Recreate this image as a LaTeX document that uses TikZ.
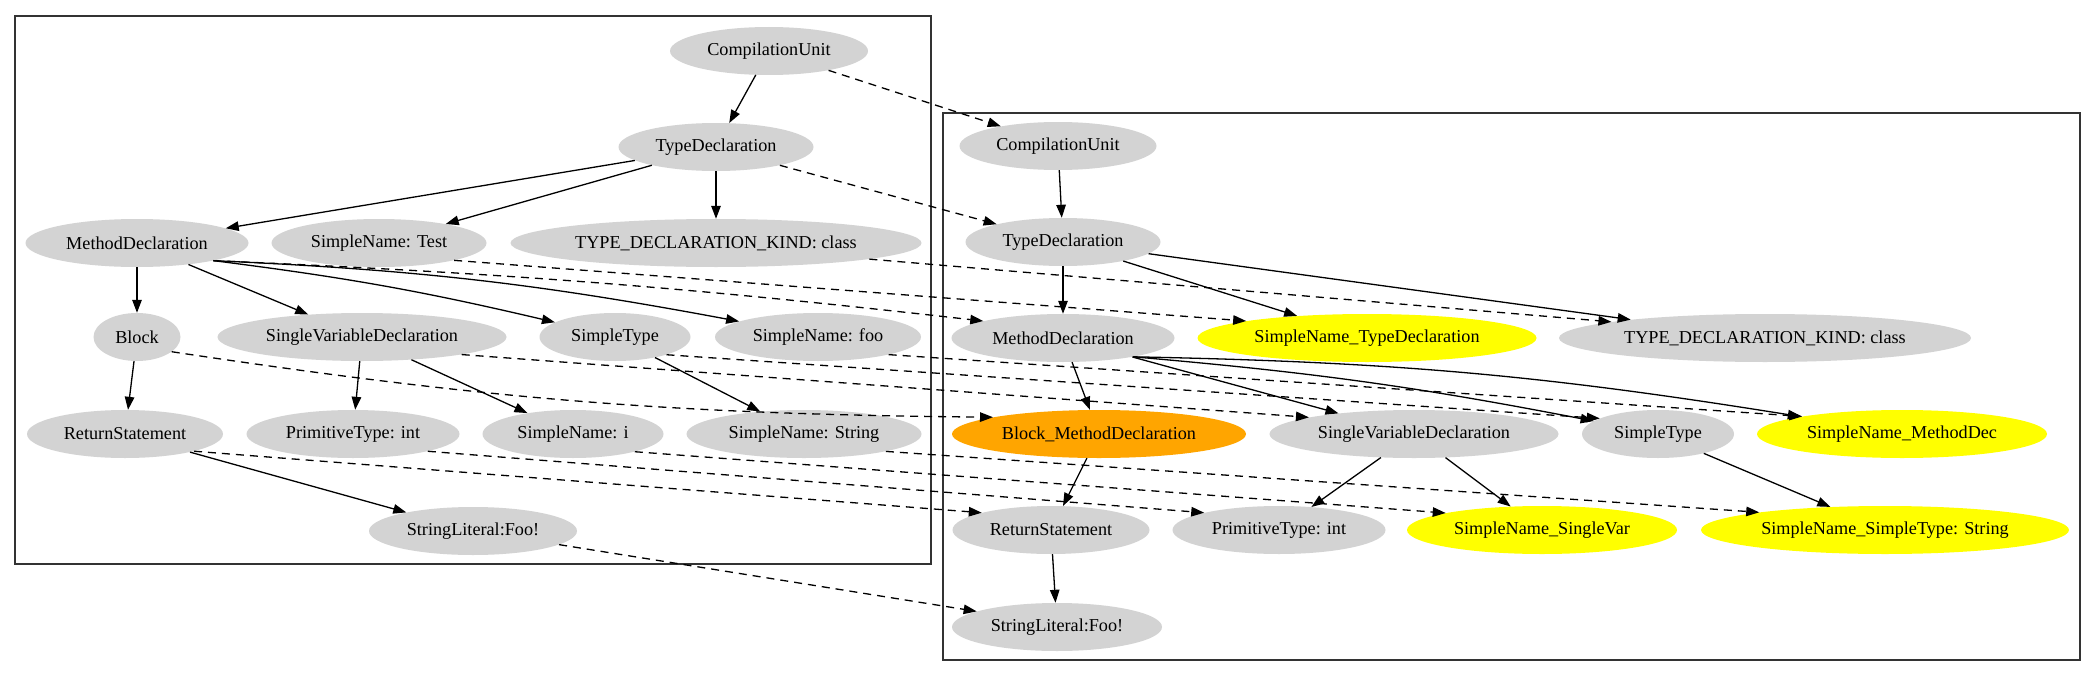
\documentclass[tikz,border=0pt]{standalone}
\usepackage{fontspec}
\setmainfont{Liberation Serif}
\usetikzlibrary{shapes.geometric,arrows.meta}
\definecolor{gnode}{HTML}{D3D3D3}
\definecolor{ynode}{HTML}{FFFF00}
\definecolor{orangenode}{HTML}{FFA500}
\tikzset{
  nd/.style={ellipse, fill=gnode, inner sep=0pt, minimum height=48pt, font=\fontsize{18.2}{20}\selectfont},
  ylw/.style={nd, fill=ynode},
  org/.style={nd, fill=orangenode},
  edge/.style={line width=1.3pt, -{Triangle[length=13pt,width=9.5pt]}},
  map/.style={edge, dash pattern=on 8pt off 6pt},
  cluster/.style={draw=black!80, line width=1.4pt}
}
\begin{document}
\begin{tikzpicture}[x=1pt,y=-1pt]
\useasboundingbox (0,0) rectangle (2096,677);
\draw[cluster] (15,16) rectangle (931,564);
\draw[cluster] (943,113) rectangle (2080,660);
% left tree
\node[nd, minimum width=198pt] (lcu) at (769,51) {CompilationUnit};
\node[nd, minimum width=195pt] (ltd) at (716,147) {TypeDeclaration};
\node[nd, minimum width=223pt] (lmd) at (137,243) {MethodDeclaration};
\node[nd, minimum width=215pt] (lsnt) at (379,243) {SimpleName: Test};
\node[nd, minimum width=411pt] (ltdk) at (716,243) {TYPE\_DECLARATION\_KIND: class};
\node[nd, minimum width=87pt] (lblk) at (137,337) {Block};
\node[nd, minimum width=289pt] (lsvd) at (362,337) {SingleVariableDeclaration};
\node[nd, minimum width=151pt] (lst) at (615,337) {SimpleType};
\node[nd, minimum width=206pt] (lsnf) at (818,337) {SimpleName: foo};
\node[nd, minimum width=196pt] (lrs) at (125,434) {ReturnStatement};
\node[nd, minimum width=213pt] (lpt) at (353,434) {PrimitiveType: int};
\node[nd, minimum width=181pt] (lsni) at (573,434) {SimpleName: i};
\node[nd, minimum width=235pt] (lsns) at (804,434) {SimpleName: String};
\node[nd, minimum width=208pt] (lsl) at (473,531) {StringLiteral:Foo!};
% right tree
\node[nd, minimum width=197pt] (rcu) at (1058,146) {CompilationUnit};
\node[nd, minimum width=195pt] (rtd) at (1063,242) {TypeDeclaration};
\node[nd, minimum width=223pt] (rmd) at (1063,338) {MethodDeclaration};
\node[ylw, minimum width=339pt] (rsntd) at (1367,338) {SimpleName\_TypeDeclaration};
\node[nd, minimum width=412pt] (rtdk) at (1765,338) {TYPE\_DECLARATION\_KIND: class};
\node[org, minimum width=294pt] (rbmd) at (1099,434) {Block\_MethodDeclaration};
\node[nd, minimum width=289pt] (rsvd) at (1414,434) {SingleVariableDeclaration};
\node[nd, minimum width=152pt] (rst) at (1658,434) {SimpleType};
\node[ylw, minimum width=290pt] (rsnmd) at (1902,434) {SimpleName\_MethodDec};
\node[nd, minimum width=197pt] (rrs) at (1051,530) {ReturnStatement};
\node[nd, minimum width=213pt] (rpt) at (1279,530) {PrimitiveType: int};
\node[ylw, minimum width=270pt] (rsnsv) at (1542,530) {SimpleName\_SingleVar};
\node[ylw, minimum width=368pt] (rsnst) at (1885,530) {SimpleName\_SimpleType: String};
\node[nd, minimum width=210pt] (rsl) at (1057,627) {StringLiteral:Foo!};
% left solid edges
\draw[edge] (lcu) -- (ltd);
\draw[edge] (ltd) -- (lmd);
\draw[edge] (ltd) -- (lsnt);
\draw[edge] (ltd) -- (ltdk);
\draw[edge] (lmd) -- (lblk);
\draw[edge] (lmd) -- (lsvd);
\draw[edge] (lmd.347) to[bend left=3] (lst);
\draw[edge] (lmd.347) to[bend left=4] (lsnf);
\draw[edge] (lblk) -- (lrs);
\draw[edge] (lsvd) -- (lpt);
\draw[edge] (lsvd) -- (lsni);
\draw[edge] (lst) -- (lsns);
\draw[edge] (lrs) -- (lsl);
% right solid edges
\draw[edge] (rcu) -- (rtd);
\draw[edge] (rtd) -- (rmd);
\draw[edge] (rtd) -- (rsntd);
\draw[edge] (rtd) -- (rtdk);
\draw[edge] (rmd) -- (rbmd);
\draw[edge] (rmd) -- (rsvd);
\draw[edge] (rmd.345) to[bend left=3] (rst);
\draw[edge] (rmd.345) to[bend left=4] (rsnmd);
\draw[edge] (rbmd) -- (rrs);
\draw[edge] (rsvd) -- (rpt);
\draw[edge] (rsvd) -- (rsnsv);
\draw[edge] (rst) -- (rsnst);
\draw[edge] (rrs) -- (rsl);
% mapping edges
\draw[map] (lcu.342) -- (rcu.161);
\draw[map] (ltd.344) -- (rtd.165);
\draw[map] (lmd.347) to[bend left=2] (rmd.168);
\draw[map] (lsnt.347) -- (rsntd.172);
\draw[map] (ltdk.354) -- (rtdk.174);
\draw[map] (lblk.337) to[bend right=4] (rbmd.171);
\draw[map] (lsvd.350) -- (rsvd.171);
\draw[map] (lst.341) -- (rst.165);
\draw[map] (lsnf.346) -- (rsnmd.170);
\draw[map] (lrs.346) -- (rrs.166);
\draw[map] (lpt.347) -- (rpt.167);
\draw[map] (lsni.344) -- (rsnsv.170);
\draw[map] (lsns.348) -- (rsnst.172);
\draw[map] (lsl.351) -- (rsl.169);
\end{tikzpicture}
\end{document}
